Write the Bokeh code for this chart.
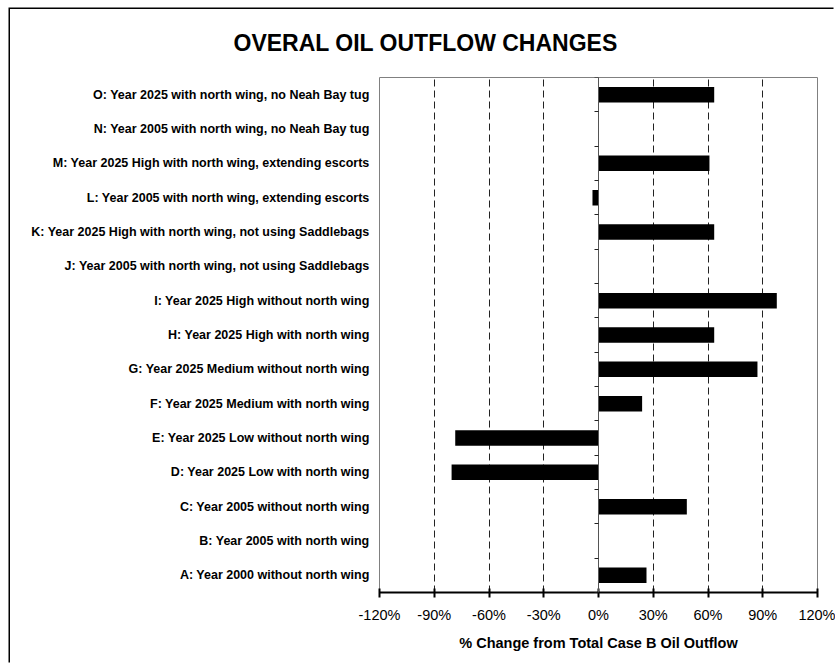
from bokeh.plotting import figure
from bokeh.models import Range1d, FixedTicker, LinearAxis, PrintfTickFormatter
from bokeh.embed import file_html
from bokeh.resources import INLINE

# Scenario labels, listed bottom to top
labels = [
    "A: Year 2000 without north wing",
    "B: Year 2005 with north wing",
    "C: Year 2005 without north wing",
    "D: Year 2025 Low with north wing",
    "E: Year 2025 Low without north wing",
    "F: Year 2025 Medium with north wing",
    "G: Year 2025 Medium without north wing",
    "H: Year 2025 High with north wing",
    "I: Year 2025 High without north wing",
    "J: Year 2005 with north wing, not using Saddlebags",
    "K: Year 2025 High with north wing, not using Saddlebags",
    "L: Year 2005 with north wing, extending escorts",
    "M: Year 2025 High with north wing, extending escorts",
    "N: Year 2005 with north wing, no Neah Bay tug",
    "O: Year 2025 with north wing, no Neah Bay tug",
]

# % change from total Case B oil outflow
changes = [26.3, 0.0, 48.4, -80.5, -78.5, 23.9, 87.1, 63.4, 97.7,
           0.0, 63.4, -3.3, 60.8, 0.0, 63.4]

x_ticks = [-120, -90, -60, -30, 0, 30, 60, 90, 120]
grid_ticks = [-90, -60, -30, 30, 60, 90]

FONT = "Liberation Sans"

rows = list(range(len(labels)))
row_edges = [r - 0.5 for r in range(len(labels) + 1)]

# the chart sits inside a thin black frame drawn on its left and top edges
p = figure(width=825, height=655, output_backend="svg", toolbar_location=None,
           margin=(9, 0, 0, 10),
           styles={"box-shadow": "-1.5px -1.5px 0 0 black"},
           x_range=Range1d(x_ticks[0], x_ticks[-1]),
           y_range=Range1d(-0.5, len(labels) - 0.5),
           min_border_left=369, min_border_right=18,
           min_border_top=67, min_border_bottom=72)
p.background_fill_color = "white"
p.border_fill_color = "white"
p.outline_line_color = "#808080"
p.outline_line_width = 1

# chart title
p.title.text = "OVERAL OIL OUTFLOW CHANGES"
p.title.align = "left"
p.title.vertical_align = "top"
p.title.offset = -146
p.title.standoff = 40
p.title.text_font = FONT
p.title.text_font_size = "23px"
p.title.text_font_style = "bold"
p.title.text_color = "black"

# dashed vertical gridlines
p.xgrid.ticker = FixedTicker(ticks=grid_ticks)
p.xgrid.grid_line_color = "#222222"
p.xgrid.grid_line_dash = "7 4"
p.xgrid.grid_line_width = 1
p.ygrid.visible = False

p.hbar(y=rows, left=0, right=changes, height=0.45,
       fill_color="black", line_color=None)

# value axis
xa = p.xaxis[0]
xa.ticker = FixedTicker(ticks=x_ticks)
xa.formatter = PrintfTickFormatter(format="%d%%")
xa.axis_line_color = "black"
xa.axis_line_width = 2
xa.major_tick_line_color = "black"
xa.major_tick_line_width = 2
xa.major_tick_in = 4
xa.major_tick_out = 5
xa.minor_tick_line_color = None
xa.major_label_text_font = FONT
xa.major_label_text_font_size = "14.5px"
xa.major_label_text_color = "black"
xa.major_label_standoff = 9
xa.axis_label = "% Change from Total Case B Oil Outflow"
xa.axis_label_text_font = FONT
xa.axis_label_text_font_size = "14.5px"
xa.axis_label_text_font_style = "bold"
xa.axis_label_text_color = "black"
xa.axis_label_standoff = 9

# scenario labels on the left
ya = p.yaxis[0]
ya.ticker = FixedTicker(ticks=rows)
ya.major_label_overrides = {r: lab for r, lab in zip(rows, labels)}
ya.axis_line_color = None
ya.major_tick_line_color = None
ya.minor_tick_line_color = None
ya.major_label_standoff = 4
ya.major_label_text_font = FONT
ya.major_label_text_font_size = "12.5px"
ya.major_label_text_font_style = "bold"
ya.major_label_text_color = "black"

# category axis crossing at 0%, ticks between scenarios
cat_axis = LinearAxis(fixed_location=0, ticker=FixedTicker(ticks=row_edges),
                      axis_line_color="#555555", axis_line_width=1,
                      major_tick_line_color="#222222", major_tick_in=0,
                      major_tick_out=4, minor_tick_line_color=None,
                      major_label_text_alpha=0, major_label_text_font_size="1px",
                      major_label_standoff=0)
p.add_layout(cat_axis, "left")

open("out.html", "w").write(file_html(p, INLINE))
